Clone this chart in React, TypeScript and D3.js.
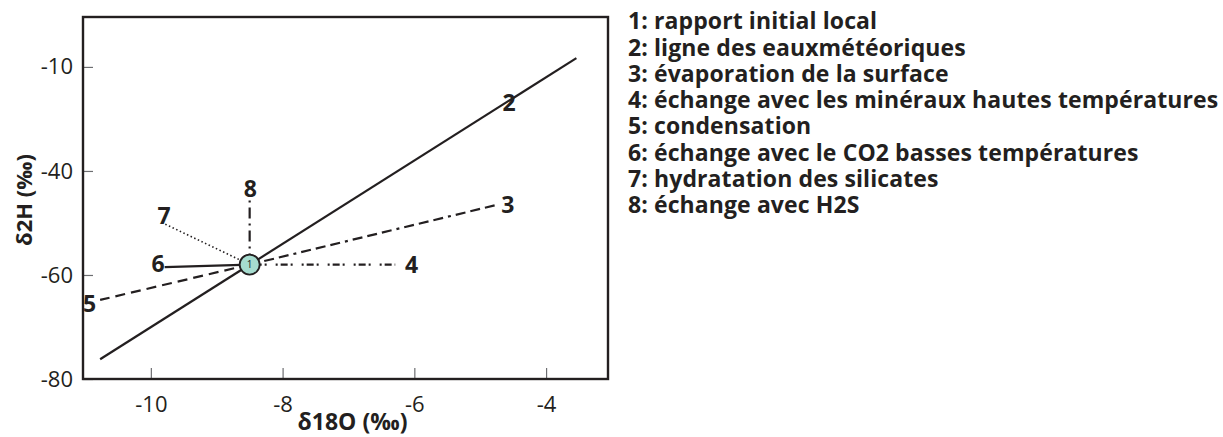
import { useEffect, useRef } from 'react';
import * as d3 from 'd3';

// axes
const xTicks = [-10, -8, -6, -4];
const yTicks = [-80, -60, -40, -20];
const yTickLabels = ['-80', '-60', '-40', '-10']; // top tick is printed "-10" in the source figure

// 1: initial local ratio
const originX = -8.5;
const originY = -58;

// 2: meteoric water line
const meteoricX = [-10.77, -3.54];
const meteoricY = [-76.2, -18.3];

// 3..8: trend lines drawn from the initial ratio
const trendIds = ['3', '4', '5', '6', '7', '8'];
const trendEndX = [-4.74, -6.29, -10.77, -9.79, -9.82, -8.5];
const trendEndY = [-46.5, -58, -64.8, -58.5, -50, -45];

// number labels next to the lines
const labelIds = ['2', '3', '4', '5', '6', '7', '8'];
const labelX = [-4.56, -4.58, -6.04, -10.93, -9.89, -9.8, -8.49];
const labelY = [-26.9, -46.4, -58.1, -65.5, -57.8, -48.6, -43.4];

const legendItems = [
  '1: rapport initial local',
  '2: ligne des eauxmétéoriques',
  '3: évaporation de la surface',
  '4: échange avec les minéraux hautes températures',
  '5: condensation',
  '6: échange avec le CO2 basses températures',
  '7: hydratation des silicates',
  '8: échange avec H2S',
];

const dashes: Record<string, string | null> = {
  '3': '10,5,10,5,10,5,3,5',
  '4': '2,3,7,3,2,9',
  '5': '10,6',
  '6': null,
  '7': '1.5,2.5',
  '8': '11,5,2,5',
};

const FONT = "'Open Sans', 'DejaVu Sans', sans-serif";
const INK = '#231f20';

export default function App() {
  const svgRef = useRef<SVGSVGElement>(null);

  useEffect(() => {
    if (!svgRef.current) return;
    const svg = d3.select(svgRef.current);
    svg.selectAll('*').remove();

    const width = 1223;
    const height = 437;
    const margin = { top: 17, left: 83 };
    const W = 525;
    const H = 362;

    svg.attr('width', width).attr('height', height);
    const g = svg.append('g').attr('transform', `translate(${margin.left},${margin.top})`);

    const x = d3.scaleLinear().domain([-11.03, -3.06]).range([0, W]);
    const y = d3.scaleLinear().domain([-80, -10.4]).range([H, 0]);

    // axes (ticks point inward)
    const yAxis = g.append('g')
      .call(d3.axisLeft(y).tickValues(yTicks).tickSizeInner(-10).tickSizeOuter(0).tickPadding(10)
        .tickFormat((_, i) => yTickLabels[i]));
    const xAxis = g.append('g')
      .attr('transform', `translate(0,${H})`)
      .call(d3.axisBottom(x).tickValues(xTicks).tickSizeInner(-11).tickSizeOuter(0).tickPadding(17)
        .tickFormat((d) => `${d}`));
    [xAxis, yAxis].forEach((a) => {
      a.select('.domain').remove();
      a.selectAll('line').attr('stroke', '#6d6e71').attr('stroke-width', 1.2);
      a.selectAll('text')
        .attr('fill', INK)
        .attr('font-family', FONT)
        .attr('font-size', 22);
    });

    // frame
    g.append('rect')
      .attr('x', 0).attr('y', 0).attr('width', W).attr('height', H)
      .attr('fill', 'none').attr('stroke', INK).attr('stroke-width', 2.4);

    const line = d3.line<[number, number]>().x((d) => x(d[0])).y((d) => y(d[1]));

    // meteoric water line
    g.append('path')
      .attr('d', line([[meteoricX[0], meteoricY[0]], [meteoricX[1], meteoricY[1]]]))
      .attr('stroke', INK).attr('stroke-width', 2.2).attr('fill', 'none');

    // process trend lines
    trendIds.forEach((id, i) => {
      g.append('path')
        .attr('d', line([[originX, originY], [trendEndX[i], trendEndY[i]]]))
        .attr('stroke', INK)
        .attr('stroke-width', id === '7' ? 1.6 : 2.2)
        .attr('stroke-dasharray', dashes[id])
        .attr('fill', 'none');
    });

    // initial ratio marker
    g.append('circle')
      .attr('cx', x(originX)).attr('cy', y(originY)).attr('r', 10)
      .attr('fill', '#a6dccf').attr('stroke', INK).attr('stroke-width', 1.8);
    g.append('text')
      .attr('x', x(originX)).attr('y', y(originY))
      .attr('dy', '0.36em')
      .attr('text-anchor', 'middle')
      .attr('font-family', FONT).attr('font-size', 10)
      .attr('fill', INK)
      .text('1');

    // line numbers
    g.selectAll('.num')
      .data(labelIds)
      .enter().append('text')
      .attr('class', 'num')
      .attr('x', (_, i) => x(labelX[i]))
      .attr('y', (_, i) => y(labelY[i]))
      .attr('dy', '0.36em')
      .attr('text-anchor', 'middle')
      .attr('font-family', FONT).attr('font-weight', 700).attr('font-size', 23)
      .attr('fill', INK)
      .text((d) => d);

    // axis titles
    svg.append('text')
      .attr('x', margin.left + W / 2 + 7).attr('y', 430)
      .attr('text-anchor', 'middle')
      .attr('font-family', FONT).attr('font-weight', 700).attr('font-size', 23)
      .attr('fill', INK)
      .text('δ18O (‰)');
    svg.append('text')
      .attr('transform', `translate(32,${margin.top + H / 2 + 2}) rotate(-90)`)
      .attr('text-anchor', 'middle')
      .attr('font-family', FONT).attr('font-weight', 700).attr('font-size', 22)
      .attr('fill', INK)
      .text('δ2H (‰)');

    // legend
    svg.append('g')
      .selectAll('text')
      .data(legendItems)
      .enter().append('text')
      .attr('x', 628)
      .attr('y', (_, i) => 21 + i * 26.3)
      .attr('dy', '0.36em')
      .attr('font-family', FONT).attr('font-weight', 700).attr('font-size', 23)
      .attr('letter-spacing', 0.1)
      .attr('fill', INK)
      .text((d) => d);
  }, []);

  return (
    <svg
      ref={svgRef}
      style={{ position: 'absolute', left: 0, top: 0, display: 'block', background: '#fff' }}
    />
  );
}
